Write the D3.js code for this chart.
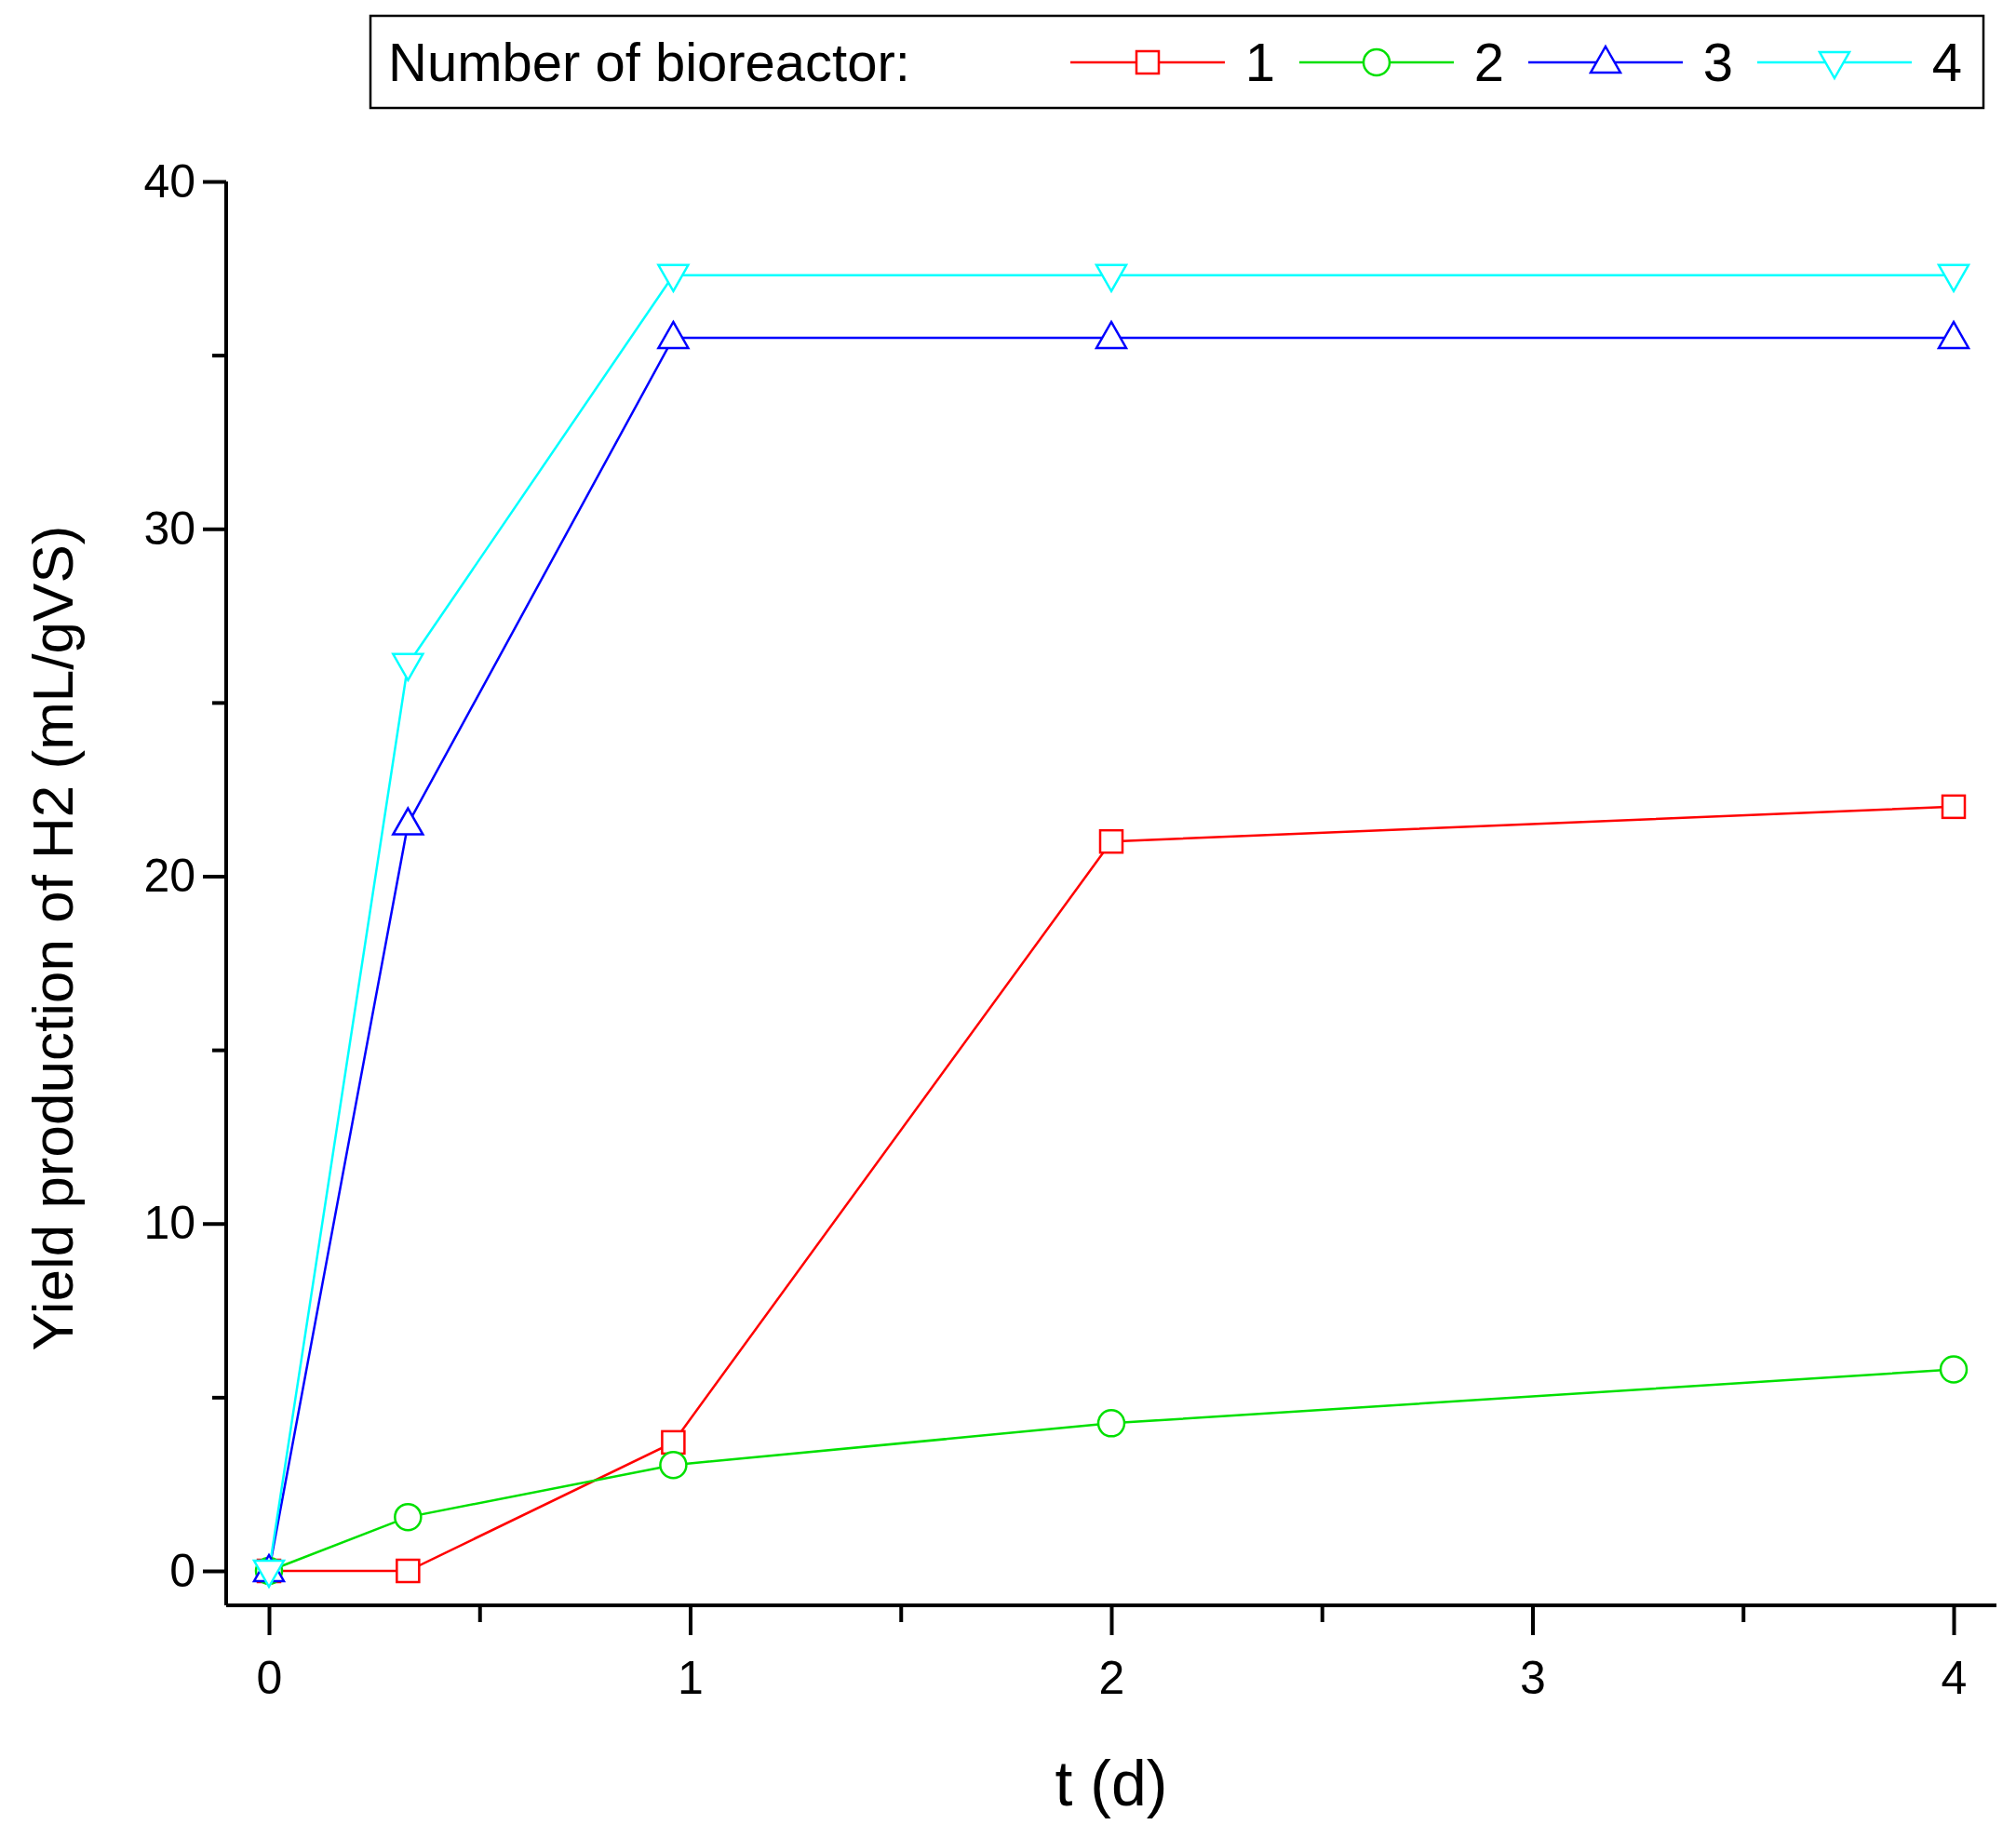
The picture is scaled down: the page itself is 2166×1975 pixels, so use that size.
<!DOCTYPE html><html><head><meta charset="utf-8"><script src="https://cdn.jsdelivr.net/npm/d3@7"></script>
<style>body{margin:0;background:#fff}text{font-family:"Liberation Sans",Arial,sans-serif}</style></head><body>
<script>
const tDays=[0,0.33,0.96,2,4];
const seriesNames=["1","2","3","4"];
const reactor1=[0,0,3.7,21,22];
const reactor2=[0,1.55,3.05,4.25,5.8];
const reactor3=[0,21.5,35.5,35.5,35.5];
const reactor4=[0,26.1,37.3,37.3,37.3];
const xTicks=[0,1,2,3,4], yTicks=[0,10,20,30,40];
const colors=["#ff0000","#00e000","#0000ff","#00ffff"];
const symbols=["square","circle","up","down"];
(function(){
const series=[reactor1,reactor2,reactor3,reactor4];
const W=2166,H=1975;
const svg=d3.select("body").append("svg").attr("width",W).attr("height",H);
const x=d3.scaleLinear().domain([0,4]).range([289,2099]);
const y=d3.scaleLinear().domain([0,40]).range([1688,195]);
const pLeft=243,pRight=2145,pBottom=1725,pTop=195;
const gx=svg.append("g").attr("transform",`translate(0,${pBottom})`)
 .call(d3.axisBottom(x).tickValues(d3.range(0,4.01,0.5)).tickSize(32).tickFormat(d=>xTicks.includes(d)?d:""));
gx.selectAll(".tick line").attr("y2",d=>Number.isInteger(d)?32:18);
gx.select(".domain").attr("d",`M${pLeft},0H${pRight}`);
const gy=svg.append("g").attr("transform",`translate(${pLeft},0)`)
 .call(d3.axisLeft(y).tickValues(d3.range(0,40.1,5)).tickSize(25).tickFormat(d=>yTicks.includes(d)?d:""));
gy.selectAll(".tick line").attr("x2",d=>d%10===0?-25:-15);
gy.select(".domain").attr("d",`M0,${pTop}V${pBottom}`);
[gx,gy].forEach(g=>{g.selectAll("line,.domain").attr("stroke","#000").attr("stroke-width",4);g.selectAll("text").attr("font-size",50).attr("fill","#000");});
gx.selectAll("text").attr("dy","1.2em");
gy.selectAll("text").attr("dx","-0.1em");
svg.append("text").attr("x",x(2)).attr("y",1940).attr("text-anchor","middle").attr("font-size",68).text("t (d)");
svg.append("text").attr("transform","translate(78,1008) rotate(-90)").attr("text-anchor","middle").attr("font-size",62).text("Yield production of H2 (mL/gVS)");
function marker(g,type,cx,cy,c){
 const s=12;
 if(type==="square") g.append("rect").attr("x",cx-s).attr("y",cy-s).attr("width",2*s).attr("height",2*s);
 else if(type==="circle") g.append("circle").attr("cx",cx).attr("cy",cy).attr("r",14);
 else if(type==="up") g.append("path").attr("d",`M${cx},${cy-17}L${cx+16},${cy+11}L${cx-16},${cy+11}Z`);
 else g.append("path").attr("d",`M${cx},${cy+17}L${cx+16},${cy-11}L${cx-16},${cy-11}Z`);
 g.selectAll("*").attr("fill","#fff").attr("stroke",c).attr("stroke-width",2.5);
}
const line=d3.line().x((d,i)=>x(tDays[i])).y(d=>y(d));
series.forEach((s,k)=>{
 svg.append("path").attr("d",line(s)).attr("fill","none").attr("stroke",colors[k]).attr("stroke-width",2.5);
});
series.forEach((s,k)=>{s.forEach((v,i)=>marker(svg.append("g"),symbols[k],x(tDays[i]),y(v),colors[k]));});
svg.append("rect").attr("x",398).attr("y",17).attr("width",1733).attr("height",99).attr("fill","#fff").attr("stroke","#000").attr("stroke-width",2.5);
svg.append("text").attr("x",417).attr("y",87).attr("font-size",58).text("Number of bioreactor:");
seriesNames.forEach((n,k)=>{
 const x0=1150+k*246;
 svg.append("line").attr("x1",x0).attr("x2",x0+166).attr("y1",67).attr("y2",67).attr("stroke",colors[k]).attr("stroke-width",2.5);
 marker(svg.append("g"),symbols[k],x0+83,67,colors[k]);
 svg.append("text").attr("x",x0+204).attr("y",87).attr("font-size",58).attr("text-anchor","middle").text(n);
});
})();
</script></body></html>
